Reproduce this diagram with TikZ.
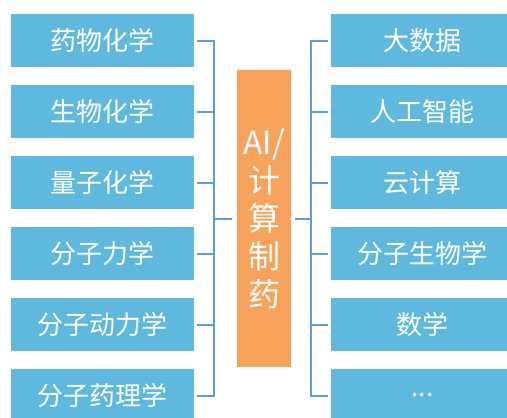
\documentclass[tikz,border=0pt]{standalone}
\usepackage{fontspec}
\setmainfont{Noto Sans CJK SC}
\usetikzlibrary{calc, positioning}
\definecolor{boxblue}{RGB}{95,184,222}
\definecolor{linkblue}{RGB}{91,157,213}
\definecolor{coreorange}{RGB}{247,163,92}

\begin{document}
\begin{tikzpicture}[x=1pt, y=-1pt]

    \useasboundingbox (0,0) rectangle (507,418); % same size as the reference, y runs down

    % the two columns of topic boxes, fixed rows 71pt apart
    \begin{scope}[every node/.style={fill=boxblue, text=white, inner sep=0pt,
                                     minimum width=183pt, minimum height=53pt,
                                     font=\fontsize{26}{26}\selectfont}]

    \node (l1) at (102.5, 40.5)  {药物化学};
    \node (l2) at (102.5, 111.5) {生物化学};
    \node (l3) at (102.5, 182.5) {量子化学};
    \node (l4) at (102.5, 253.5) {分子力学};
    \node (l5) at (102.5, 324.5) {分子动力学};
    \node (l6) at (102.5, 395.5) {分子药理学};

    \node (r1) at (422.5, 40.5)  {大数据};
    \node (r2) at (422.5, 111.5) {人工智能};
    \node (r3) at (422.5, 182.5) {云计算};
    \node (r4) at (422.5, 253.5) {分子生物学};
    \node (r5) at (422.5, 324.5) {数学};
    \node (r6) at (422.5, 395.5) {...};

    \end{scope}

    % centre column
    \node (core) at (264, 218.5) [fill=coreorange, text=white, inner sep=0pt,
                                  minimum width=54pt, minimum height=297pt,
                                  align=center, font=\fontsize{32}{38}\selectfont]
                                  {AI/\\计\\算\\制\\药};

    % brackets joining each column to the centre
    \begin{scope}[every path/.style={draw=linkblue, line width=2pt}]

        \coordinate (lbus) at ($(l1.east)+(20,0)$);
        \coordinate (rbus) at ($(r1.west)+(-20,0)$);

        \draw [shorten <=3pt, shorten >=3pt] (l1.east) -- (lbus) |- (l6.east);
        \foreach \i in {2,...,5}  \draw [shorten >=3pt] (lbus |- l\i.east) -- (l\i.east);
        \draw [shorten >=5pt] (lbus |- core.west) -- (core.west);

        \draw [shorten <=3pt, shorten >=3pt] (r1.west) -- (rbus) |- (r6.west);
        \foreach \i in {2,...,5}  \draw [shorten >=3pt] (rbus |- r\i.west) -- (r\i.west);
        \draw [shorten >=4pt] (rbus |- core.east) -- (core.east);

    \end{scope}

\end{tikzpicture}
\end{document}
